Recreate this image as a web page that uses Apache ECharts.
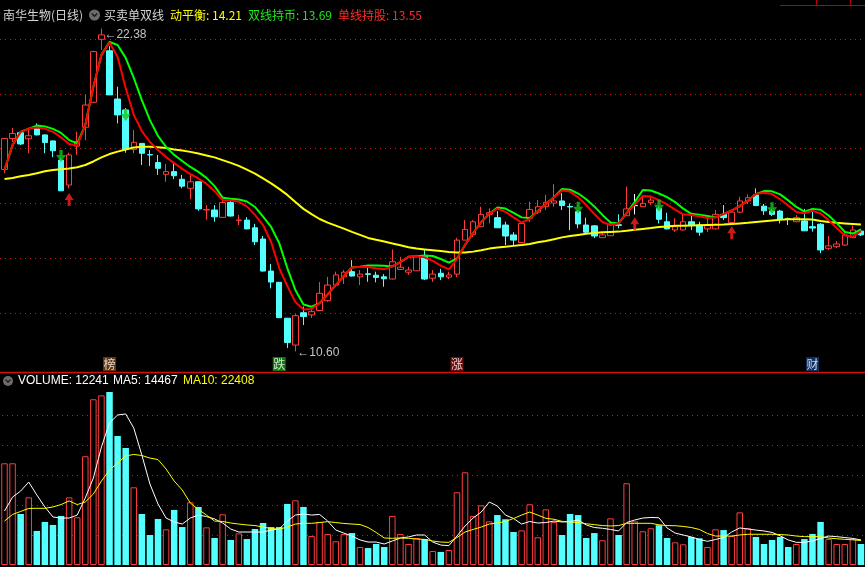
<!DOCTYPE html>
<html><head><meta charset="utf-8">
<script src="https://cdn.jsdelivr.net/npm/echarts/dist/echarts.min.js"></script>
<style>html,body{margin:0;padding:0;background:#000;}#c{width:865px;height:567px;}</style>
</head><body><div id="c"></div>
<script>
// ---------- data ----------
const categories = Array.from({length: 107}, (_, i) => 'D' + (i + 1));
const opens = [17.24,18.37,18.58,18.36,18.81,18.50,18.28,17.58,16.67,18.09,
18.78,19.69,21.99,21.57,19.81,19.41,17.97,18.19,17.78,17.49,
17.06,17.16,16.88,16.55,16.79,15.76,15.76,15.49,16.03,15.38,
15.39,15.11,14.70,13.53,13.12,11.81,10.83,12.01,11.93,12.09,
12.45,13.02,13.32,13.51,13.32,13.43,13.38,13.32,13.24,13.59,
13.49,13.54,14.08,13.27,13.45,13.31,13.42,14.66,14.87,15.15,
15.60,15.48,15.21,14.85,14.57,15.46,15.68,15.88,16.01,16.09,
15.89,15.70,15.21,15.18,14.75,14.82,15.22,15.55,15.92,15.88,
16.03,15.82,15.33,15.03,15.03,15.33,15.21,15.07,15.07,15.60,
15.30,15.68,16.09,16.31,15.90,15.72,15.72,15.44,15.33,15.36,
15.15,15.24,14.36,14.42,14.48,14.75,14.99];
const closes = [18.37,18.55,18.17,18.47,18.50,18.22,17.92,16.46,17.77,18.25,
19.59,21.54,22.15,19.96,19.23,17.97,18.23,17.83,17.77,17.28,
17.16,17.01,16.63,16.79,15.80,15.78,15.51,16.03,15.54,15.39,
15.07,14.60,13.53,13.13,11.83,10.92,11.90,11.87,12.05,12.72,
13.02,13.39,13.49,13.35,13.42,13.41,13.30,13.25,13.87,13.67,
13.57,14.08,13.24,13.42,13.32,13.39,14.66,15.05,15.33,15.60,
15.66,15.11,14.81,14.66,15.27,15.78,15.88,16.04,16.09,15.92,
15.87,15.25,14.95,14.81,14.85,15.24,15.20,15.80,15.92,16.00,
16.12,15.42,15.07,15.15,15.33,15.21,14.95,15.21,15.60,15.48,
15.68,16.09,16.21,15.92,15.73,15.60,15.42,15.42,15.48,15.00,
15.10,14.30,14.45,14.52,14.85,15.03,14.85];
const lows = [17.10,18.24,18.13,17.83,18.48,17.83,17.69,16.45,16.55,17.77,
18.31,19.66,21.60,19.96,18.92,17.85,17.83,17.40,17.37,17.04,
16.79,16.89,16.55,16.15,15.73,15.41,15.33,15.47,15.52,15.21,
15.05,14.48,13.51,12.90,11.82,10.72,10.60,11.56,11.82,12.07,
12.41,13.00,13.06,13.33,13.02,13.14,13.12,12.96,13.22,13.57,
13.39,13.53,13.20,13.14,13.20,13.24,13.31,14.66,14.77,15.14,
15.27,15.10,14.48,14.46,14.56,15.32,15.61,15.76,15.88,15.76,
15.03,15.09,14.92,14.73,14.74,14.81,15.09,15.54,15.60,15.87,
15.94,15.27,15.05,14.96,15.01,15.03,14.82,14.95,15.05,15.39,
15.28,15.65,15.97,15.90,15.58,15.54,15.27,15.21,15.32,14.99,
14.97,14.18,14.30,14.37,14.45,14.74,14.81];
const highs = [18.39,18.75,18.64,18.74,18.92,18.51,18.30,17.66,17.85,18.62,
19.96,21.57,22.38,21.74,20.26,19.48,18.68,18.20,17.95,17.77,
17.44,17.49,17.04,17.04,16.79,15.94,15.94,16.16,16.12,15.58,
15.50,15.25,14.81,13.79,13.13,11.82,11.96,12.23,12.11,13.13,
13.32,13.51,13.57,13.93,13.57,13.75,13.51,13.42,14.32,14.05,
13.69,14.12,14.30,13.57,13.61,13.51,14.74,15.39,15.39,15.88,
15.82,15.72,15.33,14.95,15.32,16.06,16.12,16.31,16.70,16.37,
16.00,15.76,15.48,15.21,14.92,15.33,15.60,16.61,16.34,16.24,
16.28,15.90,15.66,15.46,15.60,15.58,15.33,15.46,15.76,15.94,
15.76,16.24,16.33,16.55,15.98,15.80,15.76,15.48,15.58,15.80,
15.70,15.28,14.81,14.63,14.92,15.19,15.07];
// 单线持股 (red)
const singleLine = [17.22,18.13,18.61,18.73,18.77,18.73,18.61,18.41,18.17,18.11,
18.86,20.26,21.42,21.87,21.34,20.21,19.23,18.64,18.24,17.95,
17.69,17.47,17.26,17.07,16.91,16.71,16.45,16.12,16.11,16.06,
15.89,15.58,15.21,14.59,13.64,12.99,12.40,12.13,12.15,12.36,
12.68,13.02,13.35,13.66,13.69,13.68,13.63,13.60,13.70,13.86,
14.05,14.07,14.03,13.90,13.73,13.59,13.97,14.48,14.92,15.32,
15.62,15.81,15.69,15.49,15.30,15.43,15.72,15.98,16.22,16.47,
16.43,16.22,15.94,15.61,15.32,15.21,15.27,15.65,15.96,16.27,
16.25,16.12,15.96,15.77,15.60,15.58,15.53,15.47,15.49,15.61,
15.74,15.90,16.10,16.34,16.39,16.34,16.15,15.92,15.69,15.64,
15.73,15.63,15.39,15.10,14.83,14.79,14.99];
// 双线持币 (green)
const doubleLine = [17.22,18.13,18.61,18.73,18.84,18.81,18.72,18.57,18.31,18.19,
18.86,20.26,21.42,21.89,21.78,21.31,20.58,19.77,19.04,18.46,
18.06,17.77,17.55,17.33,17.15,16.93,16.63,16.21,16.17,16.14,
16.07,15.87,15.52,15.14,14.55,13.64,12.84,12.31,12.23,12.36,
12.68,13.02,13.35,13.66,13.69,13.73,13.73,13.72,13.70,13.86,
14.05,14.07,14.10,14.08,13.97,13.84,13.99,14.48,14.92,15.32,
15.62,15.85,15.81,15.65,15.49,15.47,15.72,15.98,16.22,16.53,
16.50,16.36,16.15,15.89,15.58,15.30,15.27,15.65,16.05,16.49,
16.47,16.36,16.23,16.05,15.81,15.62,15.59,15.54,15.49,15.61,
15.74,15.90,16.10,16.34,16.45,16.44,16.33,16.11,15.87,15.70,
15.80,15.77,15.56,15.28,14.96,14.90,15.05];
// 动平衡 (yellow)
const balanceLine = [16.89,16.93,16.99,17.04,17.10,17.17,17.22,17.25,17.27,17.32,
17.40,17.53,17.68,17.80,17.89,17.97,18.04,18.07,18.07,18.05,
18.02,17.97,17.93,17.88,17.82,17.75,17.68,17.58,17.48,17.37,
17.23,17.09,16.91,16.73,16.53,16.31,16.05,15.80,15.61,15.43,
15.30,15.19,15.08,14.96,14.85,14.74,14.67,14.61,14.54,14.47,
14.40,14.35,14.32,14.29,14.26,14.23,14.21,14.21,14.24,14.29,
14.35,14.39,14.42,14.45,14.48,14.52,14.58,14.63,14.69,14.76,
14.81,14.85,14.89,14.92,14.95,14.96,14.97,15.00,15.04,15.07,
15.10,15.14,15.16,15.18,15.18,15.19,15.20,15.21,15.22,15.23,
15.25,15.27,15.29,15.32,15.35,15.38,15.40,15.42,15.42,15.42,
15.41,15.36,15.32,15.29,15.27,15.25,15.23];
const volume = [67800,67800,34000,45100,22700,28700,26700,32700,45100,31800,
72500,110500,113100,115300,86000,78000,51800,34000,20000,30700,
23800,36700,25300,41800,38700,25100,18000,33800,16700,21100,
17300,24000,28000,25300,25300,40700,43100,38700,19300,28700,
20700,15800,20700,21300,12000,11300,14000,12000,32700,20700,
14000,18000,17300,9300,8700,10000,48500,61800,32700,39800,
29100,33300,30500,22000,23100,40500,18500,37100,28700,20000,
34000,33300,18000,21300,16500,31100,20000,54500,29100,22500,
24500,26500,18000,15100,13800,18700,17800,12000,23800,23300,
19300,35100,24500,18700,14000,16700,18700,12000,14000,17300,
20700,28700,17300,14000,14000,17300,14000];
const volMA5 = [36000,45300,49300,55300,46700,38700,32000,31300,31300,33300,
44700,58000,78700,94700,100000,100700,91300,73300,54000,40700,
31300,28700,27300,31300,33300,32300,30700,28000,24000,22000,
22000,22000,22000,23300,24000,29300,33300,34000,33300,33700,
29300,23300,21300,19300,16700,15300,15300,14000,16000,18000,
18700,20000,20000,15300,13300,12900,19300,26000,31300,35300,
42000,39300,33300,31000,27300,29000,28000,28300,29300,28700,
28900,30000,26700,25000,24500,23700,22700,28300,30000,31300,
31700,31500,24700,21300,20000,18700,17000,15800,17000,18300,
22000,24700,24000,23300,22700,21700,19500,16700,15100,15100,
16000,17700,19300,18900,18300,17700,16700];
const volMA10 = [29300,33700,35700,37700,37800,37800,38700,40300,42700,40300,
42000,47300,56000,63300,68000,72700,73700,73000,71300,70300,
64000,56000,50000,41300,37000,33300,29300,29000,28000,27300,
26700,26300,25300,24300,23900,25300,27300,27800,27800,28300,
28900,28300,27700,27300,27000,25000,21700,18000,17800,18000,
17800,17300,17100,16000,15300,15100,18300,22000,23700,25300,
27300,28000,29000,31000,33300,35300,33300,31100,30500,29100,
28700,28300,27500,26900,26300,26000,26300,27800,27800,27800,
27800,26800,26300,26200,25700,25000,23700,21000,19300,19300,
19300,20000,20500,20500,20500,20500,20300,20000,19300,18900,
18900,18900,18000,17500,17100,16800,16300];
const buyIdx = [8, 40, 78, 90];
const buyPrice = [16.14, 11.97, 15.26, 14.93];
const sellIdx = [7, 15, 71, 81, 95];
const sellPrice = [17.73, 19.23, 15.84, 15.91, 15.82];
const eventIdx = [13, 34, 56, 100];
const eventText = ['榜', '跌', '涨', '财'];
const priceTicks = {min: 12, max: 22, step: 2};
const volTicks = [20000, 40000, 60000, 80000, 100000];
const headerTexts = ['南华生物(日线)', '买卖单双线', '动平衡: 14.21', '双线持币: 13.69', '单线持股: 13.55'];
const volHeader = ['VOLUME: 12241', 'MA5: 14467', 'MA10: 22408'];

// ---------- styles ----------
const UP = '#ff3c3c', DOWN = '#54ffff';
const GRIDLINE = '#c01e1e';
const eventBg = ['#7c4410', '#149414', '#8a0f0f', '#123c78'];
const GL = 0.45, GW = 867.8;
const PTOP = 39, PH = 274, VTOP = 415, VH = 150;
const nPriceLines = (priceTicks.max - priceTicks.min) / priceTicks.step;

const candleData = opens.map((o, i) => {
  const v = [o, closes[i], lows[i], highs[i]];
  if (o === closes[i]) return {value: v, itemStyle: {borderColor: '#fff', borderColor0: '#fff', borderColorDoji: '#fff'}};
  return v;
});
const volData = volume.map((v, i) => {
  const up = closes[i] >= opens[i];
  return {value: v, itemStyle: up ? {color: '#000', borderColor: UP, borderWidth: 1} : {color: DOWN, borderColor: DOWN, borderWidth: 0}};
});
const hiIdx = highs.indexOf(Math.max(...highs));
const loIdx = lows.indexOf(Math.min(...lows));

const upArrow = 'path://M5,0 L10,7 L6.6,7 L6.6,13 L3.4,13 L3.4,7 L0,7 Z';
const downArrow = 'path://M3.4,0 L6.6,0 L6.6,5 L10,5 L5,12 L0,5 L3.4,5 Z';

function txt(x, y, s, fill, size, family) {
  return {type: 'text', silent: true, z: 100, style: {x: x, y: y, text: s, fill: fill, fontSize: size, fontFamily: family, verticalAlign: 'middle'}};
}
const cjk = '"Noto Sans CJK SC", sans-serif';
const lat = '"Liberation Sans", Arial, sans-serif';
const hiddenY = {axisLine: {show: false}, axisTick: {show: false}, axisLabel: {show: false}, splitLine: {show: false}};

const baseGraphic = [
  {type: 'line', silent: true, shape: {x1: 780, y1: 5.5, x2: 865, y2: 5.5}, style: {stroke: '#c00000', lineWidth: 1}},
  {type: 'line', silent: true, shape: {x1: 816.5, y1: 0, x2: 816.5, y2: 5}, style: {stroke: '#c00000', lineWidth: 1}},
  {type: 'line', silent: true, shape: {x1: 850.5, y1: 0, x2: 850.5, y2: 5}, style: {stroke: '#c00000', lineWidth: 1}},
  txt(3, 15, headerTexts[0], '#d4d4d4', 12, cjk),
  {type: 'circle', silent: true, shape: {cx: 94.5, cy: 15, r: 5.5}, style: {fill: '#6c6c6c'}},
  {type: 'polyline', silent: true, shape: {points: [[91.8, 13.6], [94.5, 16.3], [97.2, 13.6]]}, style: {stroke: '#181818', lineWidth: 1.4, fill: null}},
  txt(104, 15, headerTexts[1], '#d4d4d4', 12, cjk),
  txt(170, 15, headerTexts[2], '#ffff00', 12, cjk),
  txt(248, 15, headerTexts[3], '#1ee81e', 12, cjk),
  txt(338, 15, headerTexts[4], '#ff2a2a', 12, cjk),
  {type: 'line', silent: true, shape: {x1: 0, y1: 372.5, x2: 865, y2: 372.5}, style: {stroke: '#d01010', lineWidth: 1.5}},
  {type: 'circle', silent: true, shape: {cx: 8, cy: 381, r: 5}, style: {fill: '#6c6c6c'}},
  {type: 'polyline', silent: true, shape: {points: [[5.6, 379.8], [8, 382.2], [10.4, 379.8]]}, style: {stroke: '#181818', lineWidth: 1.3, fill: null}},
  txt(18, 381, volHeader[0], '#ffffff', 12, lat),
  txt(113, 381, volHeader[1], '#ffffff', 12, lat),
  txt(183, 381, volHeader[2], '#ffff00', 12, lat)
];

const option = {
  backgroundColor: '#000',
  animation: false,
  grid: [
    {left: GL, width: GW, top: PTOP, height: PH},
    {left: GL, width: GW, top: VTOP, height: VH},
    {left: GL, width: GW, top: 357, height: 14},
    {left: 0, width: 865, top: PTOP, height: PH}
  ],
  xAxis: [0, 1, 2].map(i => ({type: 'category', gridIndex: i, data: categories, boundaryGap: true, show: false}))
    .concat([{type: 'value', gridIndex: 3, min: 0, max: 1, show: false}]),
  yAxis: [
    Object.assign({gridIndex: 0, min: priceTicks.min, max: priceTicks.max}, hiddenY),
    Object.assign({gridIndex: 1, min: 0, max: volTicks[volTicks.length - 1]}, hiddenY),
    {gridIndex: 2, min: 0, max: 1, show: false},
    {gridIndex: 3, min: 0, max: nPriceLines, interval: 1, axisLine: {show: false}, axisTick: {show: false}, axisLabel: {show: false},
     splitLine: {show: true, lineStyle: {color: GRIDLINE, type: [1, 4], width: 1}}}
  ],
  series: [
    {type: 'candlestick', xAxisIndex: 0, yAxisIndex: 0, data: candleData, barWidth: 6, clip: false, z: 2,
     itemStyle: {color: '#000', color0: DOWN, borderColor: UP, borderColor0: DOWN, borderColorDoji: '#fff', borderWidth: 1}},
    {type: 'line', xAxisIndex: 0, yAxisIndex: 0, data: balanceLine, showSymbol: false, clip: false, z: 3, silent: true,
     lineStyle: {color: '#ffff00', width: 2}},
    {type: 'line', xAxisIndex: 0, yAxisIndex: 0, data: doubleLine, showSymbol: false, clip: false, z: 4, silent: true,
     lineStyle: {color: '#00ff00', width: 2}},
    {type: 'line', xAxisIndex: 0, yAxisIndex: 0, data: singleLine, showSymbol: false, clip: false, z: 5, silent: true,
     lineStyle: {color: '#ff0000', width: 2}},
    {type: 'scatter', xAxisIndex: 0, yAxisIndex: 0, symbol: upArrow, symbolSize: [9, 13], z: 6, silent: true,
     itemStyle: {color: '#ff2020'}, data: buyIdx.map((k, i) => [categories[k], buyPrice[i]])},
    {type: 'scatter', xAxisIndex: 0, yAxisIndex: 0, symbol: downArrow, symbolSize: [10, 12], z: 6, silent: true,
     itemStyle: {color: '#18c418'}, data: sellIdx.map((k, i) => [categories[k], sellPrice[i]])},
    {type: 'bar', xAxisIndex: 1, yAxisIndex: 1, data: volData, barWidth: 6.5, clip: false, z: 2, silent: true},
    {type: 'line', xAxisIndex: 1, yAxisIndex: 1, data: volMA5, showSymbol: false, clip: false, z: 3, silent: true,
     lineStyle: {color: '#ffffff', width: 1}},
    {type: 'line', xAxisIndex: 1, yAxisIndex: 1, data: volMA10, showSymbol: false, clip: false, z: 3, silent: true,
     lineStyle: {color: '#ffff00', width: 1}},
    {type: 'scatter', xAxisIndex: 2, yAxisIndex: 2, symbol: 'rect', symbolSize: [13, 14], silent: true, z: 5,
     label: {show: true, position: 'inside', color: '#fff', fontSize: 12, fontFamily: cjk},
     data: eventIdx.map((k, i) => ({value: [categories[k], 0.5], label: {formatter: eventText[i]}, itemStyle: {color: eventBg[i]}}))}
  ],
  graphic: baseGraphic
};
const chart = echarts.init(document.getElementById('c'), null, {renderer: 'canvas'});
chart.setOption(option);

// extreme-price annotations and volume gridlines, placed through the axis scales
const hiPt = chart.convertToPixel({gridIndex: 0}, [hiIdx, highs[hiIdx]]);
const loPt = chart.convertToPixel({gridIndex: 0}, [loIdx, lows[loIdx]]);
const volSeriesIndex = 6;
const volLines = [];
volTicks.forEach(v => {
  let p = chart.convertToPixel({seriesIndex: volSeriesIndex}, [0, v]);
  let y = Array.isArray(p) ? p[1] : NaN;
  if (!isFinite(y)) y = VTOP + VH * (1 - v / volTicks[volTicks.length - 1]);
  y = Math.round(y) + 0.5;
  for (let x = 2; x < 865; x += 5) {
    volLines.push({type: 'rect', silent: true, z: 1, shape: {x: x, y: y - 0.5, width: 1, height: 1}, style: {fill: GRIDLINE}});
  }
});
chart.setOption({graphic: baseGraphic.concat([
  txt(hiPt[0] + 3, hiPt[1] + 6, '←' + highs[hiIdx].toFixed(2), '#c4c4c4', 12, lat),
  txt(loPt[0] + 2, loPt[1] + 1, '←' + lows[loIdx].toFixed(2), '#c4c4c4', 12, lat)
]).concat(volLines)});
</script>
</body></html>
